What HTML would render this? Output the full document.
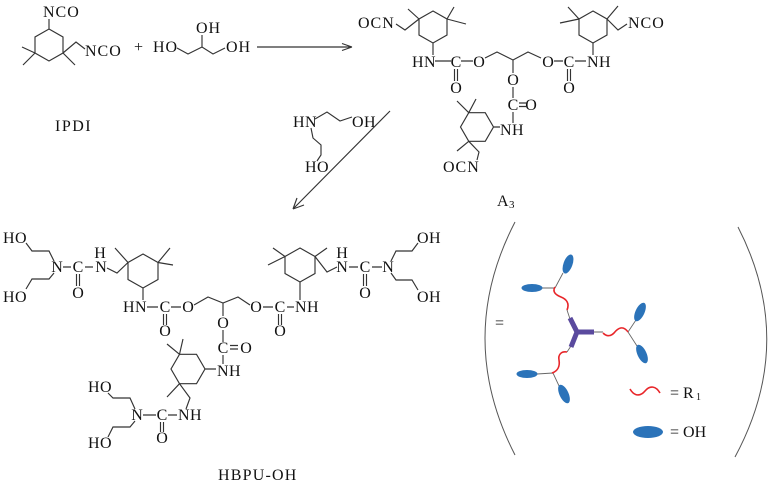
<!DOCTYPE html>
<html><head><meta charset="utf-8">
<style>
html,body{margin:0;padding:0;background:#fff;}
svg{display:block;}
text{font-family:"Liberation Serif",serif;font-size:16px;fill:#111;}
.m{text-anchor:middle;}
.b{fill:none;stroke:#333;stroke-width:1.15;}
.g{fill:none;stroke:#666;stroke-width:0.9;}
.r{fill:none;stroke:#e8262a;stroke-width:1.6;}
.e{fill:#2b73b9;}
</style></head>
<body>
<svg width="772" height="484" viewBox="0 0 772 484" xmlns="http://www.w3.org/2000/svg">

<!-- ===== IPDI ===== -->
<path class="b" d="M49,29 L63,37 L63,53 L49,61 L35,53 L35,37 Z M49,29 L49,19 M35,53 L22,47 M35,53 L23,65 M63,53 L75,65 M63,53 L76,42 L85,49"/>
<text x="43" y="17" letter-spacing="1">NCO</text>
<text x="85" y="56" letter-spacing="1">NCO</text>
<text x="134" y="52">+</text>
<text x="153" y="52" letter-spacing="1">HO</text>
<text x="196" y="33" letter-spacing="1">OH</text>
<text x="226" y="52" letter-spacing="1">OH</text>
<path class="b" d="M177,48 L188,54 L202,47 L213,54 L225,48 M202,47 L202,35"/>
<text x="55" y="131" letter-spacing="1.5">IPDI</text>
<!-- arrow -->
<path class="b" d="M257,47 L352,47 M352,47 L342,43.5 M352,47 L342,50.5"/>

<!-- ===== A3 ===== -->
<path class="b" d="M433,11 L447,19 L447,35 L433,43 L419,35 L419,19 Z M419,19 L408,9 M419,19 L405,30 L396,24 M447,19 L454,7 M447,19 L466,24 M433,43 L433,55"/>
<text x="358" y="28" letter-spacing="1">OCN</text>
<text x="412" y="67" letter-spacing="0.5">HN</text>
<path class="b" d="M435,61 L451,61 M461,61 L473,61 M454.5,69 L454.5,81 M457.5,69 L457.5,81"/>
<text class="m" x="456" y="67">C</text>
<text class="m" x="479" y="67">O</text>
<text class="m" x="456" y="93">O</text>
<path class="b" d="M485,58 L497,52 L513,60 L528,52 L541,58 M513,60 L513,73"/>
<text class="m" x="513" y="85">O</text>
<path class="b" d="M513,87 L513,98 M519,103 L526,103 M519,106.5 L526,106.5 M513,112 L513,123"/>
<text class="m" x="513" y="110">C</text>
<text class="m" x="531" y="110">O</text>
<text x="500" y="135" letter-spacing="0.5">NH</text>
<text class="m" x="548" y="67">O</text>
<path class="b" d="M554,61 L563,61 M575,61 L586,61 M567.5,69 L567.5,81 M570.5,69 L570.5,81 M593,55 L593,43"/>
<text class="m" x="569" y="67">C</text>
<text x="587" y="67" letter-spacing="0.5">NH</text>
<text class="m" x="569" y="93">O</text>
<path class="b" d="M593,11 L607,19 L607,35 L593,43 L579,35 L579,19 Z M579,19 L560,23 M579,19 L568,7 M607,19 L618,6 M607,19 L618,30 L627,24"/>
<text x="628" y="28" letter-spacing="1">NCO</text>
<path class="b" d="M468.75,112.7 L485.25,112.7 L493.5,127 L485.25,141.3 L468.75,141.3 L460.5,127 Z M468.75,112.7 L457,101 M468.75,112.7 L476,99 M468.75,141.3 L457,151 M468.75,141.3 L479,152 L477,160 M493.5,127 L500,127"/>
<text x="443" y="172" letter-spacing="1">OCN</text>
<text x="497" y="206">A</text>
<text x="509" y="208" style="font-size:11px">3</text>

<!-- ===== reagent + arrow ===== -->
<text x="293" y="127" letter-spacing="0.5">HN</text>
<text x="352" y="127" letter-spacing="0.5">OH</text>
<text x="305" y="172" letter-spacing="0.5">HO</text>
<path class="b" d="M315,119 L327,112 L340,121 L352,117 M311,128 L313,138 L321,145 L321,155 L317,161"/>
<path class="b" d="M390,111 L293,209 M293,209 L297,198 M293,209 L304,205"/>

<!-- ===== HBPU-OH ===== -->
<text x="3" y="243" letter-spacing="0.5">HO</text>
<text x="3" y="302" letter-spacing="0.5">HO</text>
<path class="b" d="M26,243 L32,251 L49,251 L54,261 M54,273 L49,279 L32,279 L26,289"/>
<text class="m" x="57" y="272">N</text>
<path class="b" d="M63,267 L71,267 M85,267 L93,267 M76.5,274 L76.5,286 M79.5,274 L79.5,286"/>
<text class="m" x="78" y="272">C</text>
<text class="m" x="78" y="298">O</text>
<text class="m" x="101" y="272">N</text>
<text class="m" x="100" y="258">H</text>
<path class="b" d="M107,268 L117,273 L128,262.5 M143,254 L158,262.5 L158,279.5 L143,288 L128,279.5 L128,262.5 Z M128,262.5 L115,248 M158,262.5 L173,265 M158,262.5 L170,248 M143,288 L143,300"/>
<text x="123" y="312" letter-spacing="0.5">HN</text>
<path class="b" d="M147,307 L158,307 M171,307 L181,307 M163.5,314 L163.5,325 M166.5,314 L166.5,325"/>
<text class="m" x="165" y="312">C</text>
<text class="m" x="188" y="312">O</text>
<text class="m" x="165" y="336">O</text>
<path class="b" d="M194,305 L208,297 L223,303 L238,297 L250,305 M223,303 L223,316"/>
<text class="m" x="223" y="328">O</text>
<path class="b" d="M223,330 L223,342 M230,345.5 L238,345.5 M230,349 L238,349 M223,355 L223,364"/>
<text class="m" x="223" y="353">C</text>
<text class="m" x="246" y="353">O</text>
<text x="217" y="376" letter-spacing="0.5">NH</text>
<text class="m" x="256" y="312">O</text>
<path class="b" d="M263,307 L273,307 M287,307 L294,307 M278.5,314 L278.5,325 M281.5,314 L281.5,325 M300,282 L300,300"/>
<text class="m" x="280" y="312">C</text>
<text x="295" y="312" letter-spacing="0.5">NH</text>
<text class="m" x="280" y="336">O</text>
<path class="b" d="M300,248 L315,256.5 L315,273.5 L300,282 L285,273.5 L285,256.5 Z M285,256.5 L268,265 M285,256.5 L273,248 M315,256.5 L327,248 M315,256.5 L327,272 L337,267"/>
<text class="m" x="342" y="272">N</text>
<text class="m" x="342" y="258">H</text>
<path class="b" d="M349,267 L358,267 M372,267 L382,267 M363.5,274 L363.5,286 M366.5,274 L366.5,286"/>
<text class="m" x="365" y="272">C</text>
<text class="m" x="365" y="298">O</text>
<text class="m" x="388" y="272">N</text>
<path class="b" d="M391,261 L396,251 L412,251 L418,243 M391,273 L396,280 L412,280 L418,290"/>
<text x="417" y="243" letter-spacing="0.5">OH</text>
<text x="417" y="302" letter-spacing="0.5">OH</text>
<path class="b" d="M179.5,354.3 L196.5,354.3 L205,369 L196.5,383.7 L179.5,383.7 L171,369 Z M179.5,354.3 L167,344 M179.5,354.3 L183,339 M205,369 L216,369 M179.5,383.7 L167,397 M179.5,383.7 L190,398 L186,409"/>
<text x="88" y="392" letter-spacing="0.5">HO</text>
<text x="88" y="448" letter-spacing="0.5">HO</text>
<path class="b" d="M108,393 L113,398 L130,398 L135,409 M135,421 L130,427 L113,427 L108,437"/>
<text class="m" x="137" y="420">N</text>
<path class="b" d="M143,415 L156,415 M168,415 L177,415 M160.5,422 L160.5,432 M163.5,422 L163.5,432"/>
<text class="m" x="162" y="420">C</text>
<text class="m" x="162" y="443">O</text>
<text x="178" y="420" letter-spacing="0.5">NH</text>
<text x="218" y="480" letter-spacing="1.2">HBPU-OH</text>

<!-- ===== schematic panel ===== -->
<path d="M515,222 Q455,338 515,455" fill="none" stroke="#555" stroke-width="1"/>
<path d="M738,227 Q797,342 735,457" fill="none" stroke="#555" stroke-width="1"/>
<text x="495" y="328">=</text>

<!-- grey connectors -->
<path class="g" d="M593,332 L603,332 M570,319 L567,310 M571,346 L567,352 M555,288 L542,288 M555,288 L563,273 M553,373 L537,374 M553,373 L560,388 M628,332 L636,320 M628,332 L637,346"/>
<!-- purple core -->
<path d="M577,332 L594,332 M577,332 L570,318 M577,332 L571,347" fill="none" stroke="#5a4a9e" stroke-width="5" stroke-linecap="butt"/>
<!-- red waves -->
<path class="r" d="M603,333 C607,337 611,336 614,333 C618,328 623,325 628,332"/>
<path class="r" d="M567,310 C570,303 566,299 561,297 C556,295 552,292 555,287"/>
<path class="r" d="M567,352 C561,351 558,355 559,360 C560,366 558,371 552,373"/>
<!-- ellipses -->
<ellipse class="e" cx="532" cy="288" rx="10.5" ry="4"/>
<ellipse class="e" cx="568" cy="264" rx="10" ry="4.5" transform="rotate(-70 568 264)"/>
<ellipse class="e" cx="640" cy="312" rx="10" ry="4.5" transform="rotate(-65 640 312)"/>
<ellipse class="e" cx="642" cy="354" rx="10" ry="4.5" transform="rotate(65 642 354)"/>
<ellipse class="e" cx="527" cy="374" rx="10.5" ry="4"/>
<ellipse class="e" cx="564" cy="394" rx="10" ry="4.5" transform="rotate(65 564 394)"/>
<!-- legend -->
<path class="r" d="M630,389 C634,396 640,397 645,391 C650,385 656,386 660,393"/>
<text x="670" y="398">= R</text>
<text x="696" y="400" style="font-size:10px">1</text>
<ellipse class="e" cx="648" cy="432" rx="15" ry="6"/>
<text x="670" y="437">= OH</text>
</svg>
</body></html>
